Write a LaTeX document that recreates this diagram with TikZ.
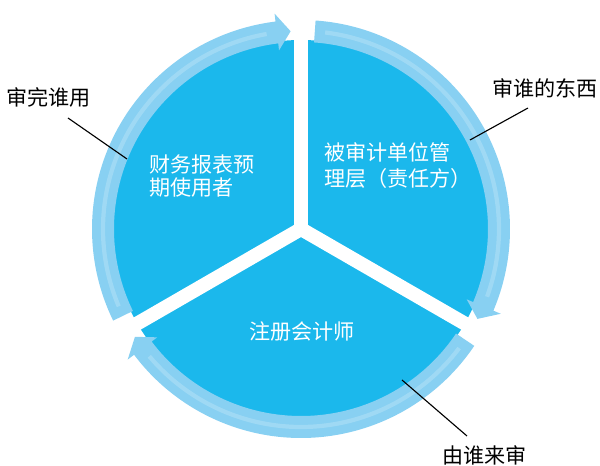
\documentclass[tikz,border=0pt]{standalone}
\usepackage{fontspec}
\setmainfont{Noto Sans CJK SC}
\usetikzlibrary{calc}
\definecolor{diskblue}{HTML}{1BB8EC}
\definecolor{bandblue}{HTML}{88D0F2}
\definecolor{streak}{HTML}{C2E8F9}
\begin{document}
\begin{tikzpicture}[x=0.025cm,y=0.025cm,
    band/.style={fill=bandblue},
    gapline/.style={white,line width=0.35cm},
    intext/.style={text=white,inner sep=0pt,align=left,font=\fontsize{15}{17}\selectfont},
    outtext/.style={inner sep=0pt,font=\fontsize{15}{17}\selectfont},
    pointer/.style={line width=0.8pt}]
    \useasboundingbox (0,0) rectangle (600,466);
    \coordinate (o) at (301,237);
    \fill[diskblue] (o) circle (189);
    \draw[gapline] (o) -- ($(o)+(90:225)$);
    \draw[gapline] (o) -- ($(o)+(210:225)$);
    \draw[gapline] (o) -- ($(o)+(330:225)$);
    \foreach \a in {0,-120,-240} {
        \fill[band] ($(o)+(206+\a:187)$) arc[start angle=206+\a, end angle=97+\a, radius=187]
            -- ($(o)+(97+\a:180)$) -- ($(o)+(93+\a:198)$) -- ($(o)+(97+\a:217)$)
            -- ($(o)+(97+\a:209)$) arc[start angle=97+\a, end angle=206+\a, radius=209] -- cycle;
        \draw[streak, line width=3pt, opacity=0.4] ($(o)+(203+\a:198)$) arc[start angle=203+\a, end angle=100+\a, radius=198];
    }
    \node[intext, anchor=west] (users) at (149,290) {财务报表预\\期使用者};
    \node[intext, anchor=west] (auditee) at (324,300) {被审计单位管\\[1.5pt]理层（责任方）};
    \node[intext] (cpa) at (302,134) {注册会计师};
    \node[outtext, anchor=west] (forwhom) at (6,369) {审完谁用};
    \node[outtext, anchor=west] (what) at (492,378) {审谁的东西};
    \node[outtext, anchor=west] (bywhom) at (442,11) {由谁来审};
    \coordinate (forwhom-a) at (68,348);
    \coordinate (forwhom-b) at (127,307);
    \coordinate (what-a) at (528,358);
    \coordinate (what-b) at (470,326);
    \coordinate (bywhom-a) at (467,30);
    \coordinate (bywhom-b) at (402,86);
    \draw[pointer] (forwhom-a) -- (forwhom-b);
    \draw[pointer] (what-a) -- (what-b);
    \draw[pointer] (bywhom-a) -- (bywhom-b);
\end{tikzpicture}
\end{document}
